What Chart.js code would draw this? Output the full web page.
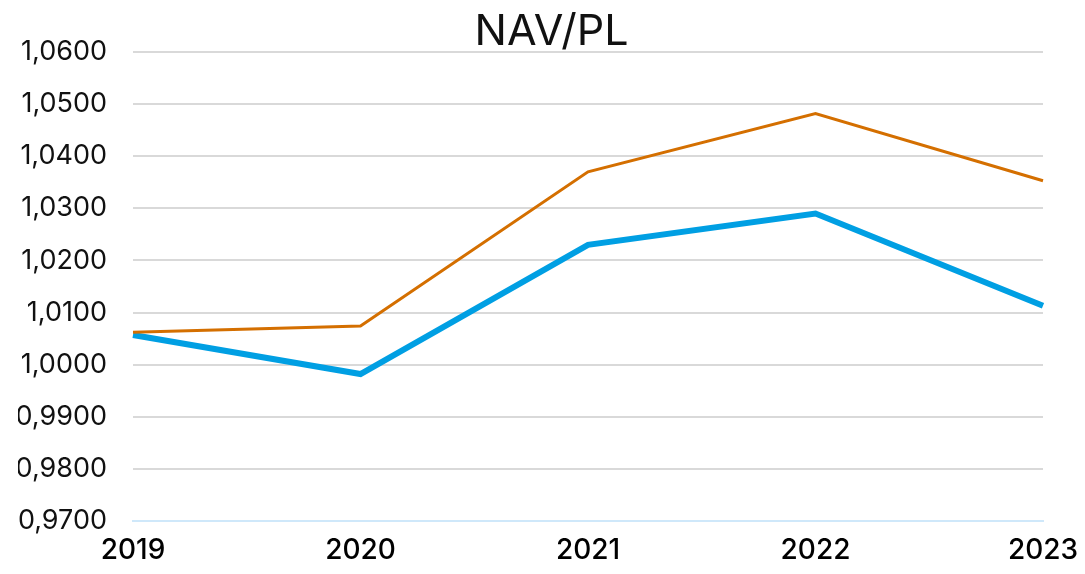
<!DOCTYPE html>
<html>
<head>
<meta charset="utf-8">
<script src="https://cdn.jsdelivr.net/npm/chart.js@4"></script>
<style>
  html, body { margin: 0; padding: 0; background: #fff; }
  #wrap { width: 1085px; height: 574px; }
</style>
</head>
<body>
<div id="wrap"><canvas id="navChart"></canvas></div>
<script>
// data
const years = ["2019", "2020", "2021", "2022", "2023"];
const orangeSeries = [1.0062, 1.0074, 1.0370, 1.0482, 1.0353];
const blueSeries = [1.0057, 0.9982, 1.0230, 1.0290, 1.0113];
const yMin = 0.97, yMax = 1.06, yStep = 0.01;

const fontFam = "Inter, 'Noto Sans', sans-serif";

const navChart = new Chart(document.getElementById("navChart"), {
    type: 'line',
    data: {
        labels: years,
        datasets: [
            {
                label: 'A',
                data: orangeSeries,
                borderColor: '#D46F00',
                borderWidth: 3,
                pointRadius: 0,
                tension: 0,
                fill: false
            },
            {
                label: 'B',
                data: blueSeries,
                borderColor: '#009FE3',
                borderWidth: 6,
                pointRadius: 0,
                tension: 0,
                fill: false
            }
        ]
    },
    options: {
        responsive: true,
        maintainAspectRatio: false,
        animation: false,
        layout: { padding: { left: 18, right: 0, top: 0, bottom: 2 } },
        plugins: {
            legend: { display: false },
            tooltip: { enabled: false },
            title: {
                display: true,
                text: 'NAV/PL',
                color: '#111',
                font: { family: fontFam, size: 43, weight: '400', lineHeight: 0.93 },
                padding: { top: 12, bottom: 0 }
            }
        },
        scales: {
            x: {
                offset: false,
                grid: { display: false, drawTicks: false },
                border: { display: true, color: '#cfe8fa', width: 2 },
                ticks: {
                    color: '#000',
                    padding: 13,
                    maxRotation: 0,
                    font: { family: fontFam, size: 28, weight: '500' }
                },
                afterFit: s => { s.height = 51; s.paddingRight = 42; s.paddingLeft = 0; }
            },
            y: {
                min: yMin,
                max: yMax,
                grid: { color: '#d9d9d9', lineWidth: 2, drawTicks: false },
                border: { display: false },
                ticks: {
                    stepSize: yStep,
                    color: '#111',
                    padding: 26,
                    font: { family: fontFam, size: 27, weight: '400' },
                    callback: v => v.toFixed(4).replace('.', ',')
                },
                afterFit: s => { s.width = 115; }
            }
        }
    }
});
</script>
</body>
</html>
